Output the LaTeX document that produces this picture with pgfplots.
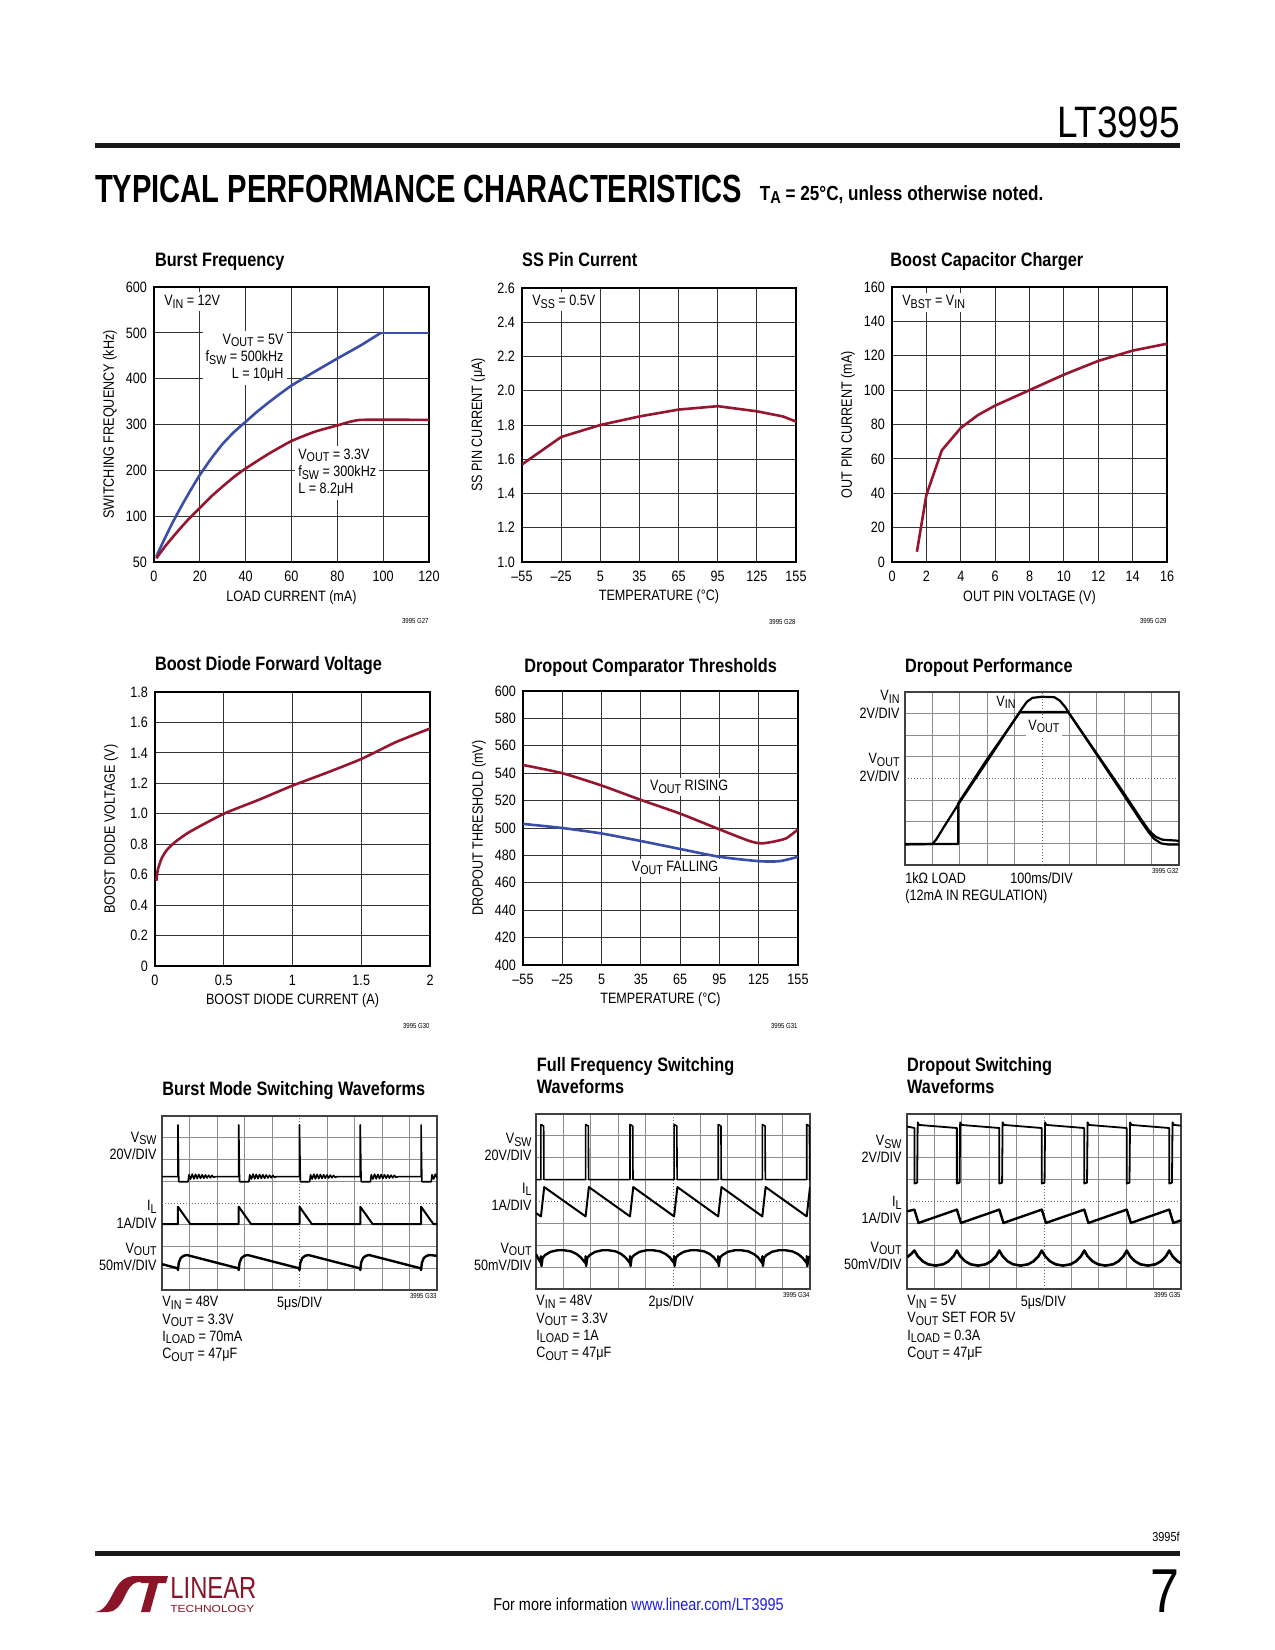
\documentclass[border=0pt]{standalone}
\usepackage{fontspec}
\setmainfont{Liberation Sans}[FakeStretch=0.84]
\usepackage{graphicx}
\usepackage{xcolor}
\usepackage{pgfplots}
\pgfplotsset{compat=1.18}

\definecolor{ltred}{RGB}{150,22,48}
\definecolor{ltblue}{RGB}{58,78,168}
\definecolor{linkblue}{RGB}{30,30,230}
\definecolor{logored}{RGB}{140,20,40}

\newcommand\ltfa{\fontsize{7.5}{8.6}\selectfont}
\newcommand\ltfb{\bfseries\fontsize{9.7}{11.2}\selectfont}
\newcommand\ltft{\fontsize{3.6}{4}\selectfont}
\newcommand\sub[1]{\raisebox{-0.32ex}{\scalebox{0.85}{#1}}}

\pgfplotsset{
  ltc/.style={
    scale only axis, anchor=north west,
    axis line style={line width=0.75pt},
    grid=major, major grid style={line width=0.5pt, black!80},
    major tick length=0pt,
    ticklabel style={font=\ltfa},
    /pgf/number format/assume math mode=true,
    xticklabel style={yshift=-1.2pt},
    every axis y label/.style={at={(axis description cs:-0.16,0.5)}, rotate=90, anchor=center, font=\ltfa},
    every axis x label/.style={at={(axis description cs:0.5,-0.128)}, anchor=center, font=\ltfa},
    clip mode=individual,
  },
  curve/.style={line width=1.3pt, no markers},
  scope/.style={
    scale only axis, anchor=north west,
    xmin=0,xmax=10,ymin=0,ymax=8,
    xtick={0,1,2,3,4,6,7,8,9,10}, ytick={0,1,2,3,5,6,7,8},
    xticklabels={}, yticklabels={},
    grid=major, major grid style={line width=0.5pt, black!45},
    major tick length=0pt,
    axis line style={line width=0.6pt, black!75},
    clip mode=individual,
  },
  trace/.style={black, line width=1.0pt, no markers, line join=round},
}

\begin{document}
\begin{tikzpicture}
\fill[white] (0,0) rectangle (637.5pt,-825pt);
\path[use as bounding box] (0,0) rectangle (637.5pt,-825pt);

\begin{scope}[x=0.5pt,y=-0.5pt]
% header
\node[anchor=base east, inner sep=0, font=\fontsize{22}{22}\selectfont] at (1180,137) {LT3995};
\fill[black!90] (94.7,143) rectangle (1180,148);
\node[anchor=base west, inner sep=0] at (94.7,202) {\resizebox{323.5pt}{13.7pt}{\bfseries\fontsize{19}{19}\selectfont TYPICAL PERFORMANCE CHARACTERISTICS}};
\node[anchor=base west, inner sep=0, font=\bfseries\fontsize{10.2}{12}\selectfont] at (759.5,200) {T\sub{A} = 25°C, unless otherwise noted.};
% titles
\node[anchor=base west, inner sep=0, font=\ltfb] at (154.6,266.5) {Burst Frequency};
\node[anchor=base west, inner sep=0, font=\ltfb] at (521.8,266) {SS Pin Current};
\node[anchor=base west, inner sep=0, font=\ltfb] at (890,266) {Boost Capacitor Charger};
\node[anchor=base west, inner sep=0, font=\ltfb] at (154.6,670) {Boost Diode Forward Voltage};
\node[anchor=base west, inner sep=0, font=\ltfb] at (523.9,672) {Dropout Comparator Thresholds};
\node[anchor=base west, inner sep=0, font=\ltfb] at (904.7,672) {Dropout Performance};
\node[anchor=base west, inner sep=0, font=\ltfb] at (162,1095) {Burst Mode Switching Waveforms};
\node[anchor=base west, inner sep=0, font=\ltfb] at (536.5,1071.5) {Full Frequency Switching};
\node[anchor=base west, inner sep=0, font=\ltfb] at (536.5,1093.3) {Waveforms};
\node[anchor=base west, inner sep=0, font=\ltfb] at (906.8,1071.5) {Dropout Switching};
\node[anchor=base west, inner sep=0, font=\ltfb] at (906.8,1093.3) {Waveforms};
% footer
\node[anchor=base east, inner sep=0, font=\fontsize{6.5}{7}\selectfont] at (1180,1541.5) {3995f};
\fill[black!90] (94.7,1550.6) rectangle (1180,1556);
\node[anchor=base east, inner sep=0, font=\fontsize{31}{31}\selectfont] at (1180,1612) {7};
\node[anchor=base, inner sep=0, font=\fontsize{8.6}{9}\selectfont] at (638.5,1610.5) {For more information \textcolor{linkblue}{www.linear.com/LT3995}};
% logo
\fill[logored] (95,1612) .. controls (106,1611) and (110,1598) .. (116,1588) .. controls (121,1580) and (126,1576) .. (136,1576) -- (150,1576) -- (147,1582) -- (140,1582) .. controls (131,1582) and (128,1590) .. (124,1598) .. controls (120,1606) and (115,1612) .. (108,1612) -- cycle;
\fill[logored] (143,1576) -- (168,1576) -- (166,1583) -- (158,1583) -- (150,1612) -- (141,1612) -- (149,1583) -- (141,1583) -- cycle;
\node[anchor=south west, inner sep=0, text=logored] at (170,1599) {\resizebox{43pt}{10.5pt}{LINEAR}};
\node[anchor=north west, inner sep=0, text=logored] at (170,1605) {\resizebox{42pt}{3.6pt}{TECHNOLOGY}};
\end{scope}

% ---------- Chart 1: Burst Frequency
\begin{axis}[ltc, at={(77pt,-143.5pt)}, width=137.5pt, height=137.5pt,
  xmin=0, xmax=120, ymin=0, ymax=600,
  xtick={0,20,40,60,80,100,120}, ytick={0,100,200,300,400,500,600},
  xticklabels={0,20,40,60,80,100,120},
  yticklabels={50,100,200,300,400,500,600},
  xlabel={LOAD CURRENT (mA)}, ylabel={SWITCHING FREQUENCY (kHz)}]
\addplot[curve, ltblue, smooth, tension=0.25] coordinates {(1,12) (4,44) (8,85) (12,122) (16,157) (20,190) (25,226) (30,258) (35,284) (40,306) (45,328) (50,348) (55,367) (60,385) (70,415) (80,444) (90,472) (99,500)};
\addplot[curve, ltblue] coordinates {(99,500) (120,500)};
\addplot[curve, ltred, smooth, tension=0.3] coordinates {(1,8) (5,35) (10,65) (15,93) (20,118) (25,143) (30,165) (35,186) (40,204) (50,236) (60,264) (70,284) (80,298) (90,310) (120,310)};
\node[fill=white, anchor=west, font=\ltfa, inner sep=1.5pt] at (axis description cs:0.025,0.947) {V\sub{IN} = 12V};
\node[fill=white, anchor=north east, align=right, font=\ltfa, inner sep=1.5pt] at (axis cs:58,505) {V\sub{OUT} = 5V\\f\sub{SW} = 500kHz\\L = 10μH};
\node[fill=white, anchor=north west, align=left, font=\ltfa, inner sep=1.5pt] at (axis cs:61.5,254) {V\sub{OUT} = 3.3V\\f\sub{SW} = 300kHz\\L = 8.2μH};
\node[anchor=east, font=\ltft, inner sep=0] at (axis description cs:1,-0.2145) {3995 G27};
\end{axis}

% ---------- Chart 2: SS Pin Current
\begin{axis}[ltc, at={(261pt,-144pt)}, width=137pt, height=137pt,
  xmin=-55, xmax=155, ymin=1.0, ymax=2.6,
  xtick={-55,-25,5,35,65,95,125,155}, ytick={1.0,1.2,1.4,1.6,1.8,2.0,2.2,2.4,2.6},
  xticklabels={–55,–25,5,35,65,95,125,155},
  yticklabels={1.0,1.2,1.4,1.6,1.8,2.0,2.2,2.4,2.6},
  xlabel={TEMPERATURE (°C)}, ylabel={SS PIN CURRENT (μA)}]
\addplot[curve, ltred] coordinates {(-55,1.57) (-25,1.73) (5,1.80) (35,1.85) (65,1.89) (95,1.91) (125,1.88) (145,1.85) (155,1.82)};
\node[fill=white, anchor=west, font=\ltfa, inner sep=1.5pt] at (axis description cs:0.025,0.95) {V\sub{SS} = 0.5V};
\node[anchor=east, font=\ltft, inner sep=0] at (axis description cs:1,-0.219) {3995 G28};
\end{axis}

% ---------- Chart 3: Boost Capacitor Charger
\begin{axis}[ltc, at={(446pt,-143.5pt)}, width=137.5pt, height=137.5pt,
  xmin=0, xmax=16, ymin=0, ymax=160,
  xtick={0,2,...,16}, ytick={0,20,...,160},
  xticklabels={0,2,4,6,8,10,12,14,16},
  yticklabels={0,20,40,60,80,100,120,140,160},
  xlabel={OUT PIN VOLTAGE (V)}, ylabel={OUT PIN CURRENT (mA)}]
\addplot[curve, ltred] coordinates {(1.45,6) (2,39) (2.9,65) (4,78) (5,85.5) (6,91) (8,100) (10,109) (12,117) (14,123) (16,127)};
\node[fill=white, anchor=west, font=\ltfa, inner sep=1.5pt] at (axis description cs:0.025,0.945) {V\sub{BST} = V\sub{IN}};
\node[anchor=east, font=\ltft, inner sep=0] at (axis description cs:1,-0.2145) {3995 G29};
\end{axis}

% ---------- Chart 4: Boost Diode Forward Voltage
\begin{axis}[ltc, at={(77.5pt,-346pt)}, width=137.5pt, height=137pt,
  xmin=0, xmax=2, ymin=0, ymax=1.8,
  xtick={0,0.5,1,1.5,2}, ytick={0,0.2,0.4,0.6,0.8,1.0,1.2,1.4,1.6,1.8},
  xticklabels={0,0.5,1,1.5,2},
  yticklabels={0,0.2,0.4,0.6,0.8,1.0,1.2,1.4,1.6,1.8},
  xlabel={BOOST DIODE CURRENT (A)}, ylabel={BOOST DIODE VOLTAGE (V)}]
\addplot[curve, ltred, smooth, tension=0.4] coordinates {(0.01,0.56) (0.02,0.63) (0.045,0.70) (0.08,0.755) (0.14,0.81) (0.25,0.88) (0.5,1.0) (0.75,1.09) (1.0,1.185) (1.25,1.27) (1.5,1.36) (1.75,1.47) (2.0,1.56)};
\node[anchor=east, font=\ltft, inner sep=0] at (axis description cs:1,-0.219) {3995 G30};
\end{axis}

% ---------- Chart 5: Dropout Comparator Thresholds
\begin{axis}[ltc, at={(261.5pt,-345.5pt)}, width=137.5pt, height=137pt,
  xmin=-55, xmax=155, ymin=400, ymax=600,
  xtick={-55,-25,5,35,65,95,125,155}, ytick={400,420,...,600},
  xticklabels={–55,–25,5,35,65,95,125,155},
  yticklabels={400,420,440,460,480,500,520,540,560,580,600},
  xlabel={TEMPERATURE (°C)}, ylabel={DROPOUT THRESHOLD (mV)}]
\addplot[curve, ltred, smooth, tension=0.4] coordinates {(-55,546) (-25,540) (5,531) (35,520.5) (65,510.5) (95,499) (118,490.5) (127,488.8) (136,490) (146,492.5) (155,499)};
\addplot[curve, ltblue, smooth, tension=0.4] coordinates {(-55,503) (-25,500) (5,496) (35,490.5) (65,484.7) (95,479) (125,475.8) (141,475.8) (155,479)};
\node[fill=white, anchor=west, font=\ltfa, inner sep=1.2pt] at (axis cs:40,530) {V\sub{OUT} RISING};
\node[fill=white, anchor=west, font=\ltfa, inner sep=1.2pt] at (axis cs:26,471) {V\sub{OUT} FALLING};
\node[anchor=east, font=\ltft, inner sep=0] at (axis description cs:1,-0.2225) {3995 G31};
\end{axis}

% ---------- Chart 6: Dropout Performance (scope)
\begin{axis}[scope, at={(452.5pt,-346pt)}, width=137pt, height=86.5pt]
\draw[black!60, line width=0.5pt, densely dotted] (axis cs:5,0) -- (axis cs:5,8);
\draw[black!60, line width=0.5pt, densely dotted] (axis cs:0,4) -- (axis cs:10,4);
\addplot[trace, line width=1.1pt] coordinates {(0,0.95) (1.0,0.97) (1.15,1.2) (1.4,1.72) (1.94,2.8) (3.0,4.8) (4.0,6.72) (4.25,7.2) (4.45,7.55) (4.65,7.73) (5.0,7.78) (5.45,7.76) (5.65,7.6) (5.85,7.3) (6.0,7.0) (7.0,5.1) (8.0,3.2) (8.6,2.05) (8.9,1.5) (9.1,1.2) (9.35,1.0) (9.6,0.95) (10,0.95)};
\addplot[trace, line width=1.1pt] coordinates {(0,0.97) (1.94,0.97) (1.94,2.85) (3.0,4.9) (4.2,7.08) (5.95,7.08) (7.0,5.15) (8.0,3.3) (8.6,2.15) (8.9,1.6) (9.15,1.3) (9.4,1.17) (10,1.12)};
\node[anchor=east, align=right, font=\ltfa, xshift=-2.5pt, inner sep=0] at (axis description cs:0,0.928) {V\sub{IN}\\2V/DIV};
\node[anchor=east, align=right, font=\ltfa, xshift=-2.5pt, inner sep=0] at (axis description cs:0,0.564) {V\sub{OUT}\\2V/DIV};
\node[anchor=west, font=\ltfa, inner sep=1pt] at (axis description cs:0.325,0.94) {V\sub{IN}};
\node[anchor=west, fill=white, font=\ltfa, inner sep=1.2pt] at (axis description cs:0.44,0.80) {V\sub{OUT}};
\node[anchor=north west, align=left, font=\ltfa, inner sep=0, yshift=-3.5pt] at (axis description cs:0,0) {1kΩ LOAD\\(12mA IN REGULATION)};
\node[anchor=north west, font=\ltfa, inner sep=0, yshift=-3.5pt] at (axis description cs:0.383,0) {100ms/DIV};
\node[anchor=north east, font=\ltft, inner sep=0, yshift=-1.5pt] at (axis description cs:1,0) {3995 G32};
\end{axis}

% ---------- Chart 7: Burst Mode Switching Waveforms
\begin{axis}[scope, at={(81pt,-558pt)}, width=137.5pt, height=87pt]
\draw[black!60, line width=0.5pt, densely dotted] (axis cs:5,0) -- (axis cs:5,8);
\draw[black!60, line width=0.5pt, densely dotted] (axis cs:0,4) -- (axis cs:10,4);
\addplot[trace, line width=0.8pt] coordinates {(0,5.21) (0.58,5.21) (0.58,7.59) (0.61,4.98) (0.95,4.98) (0.98,5.30) (1.04,5.10) (1.10,5.33) (1.16,5.11) (1.22,5.32) (1.28,5.12) (1.34,5.31) (1.40,5.13) (1.46,5.30) (1.52,5.14) (1.58,5.29) (1.64,5.15) (1.70,5.28) (1.76,5.16) (1.82,5.27) (1.88,5.18) (1.94,5.21)
 (2.79,5.21) (2.79,7.59) (2.82,4.98) (3.16,4.98) (3.19,5.30) (3.25,5.10) (3.31,5.33) (3.37,5.11) (3.43,5.32) (3.49,5.12) (3.55,5.31) (3.61,5.13) (3.67,5.30) (3.73,5.14) (3.79,5.29) (3.85,5.15) (3.91,5.28) (3.97,5.16) (4.03,5.27) (4.09,5.18) (4.15,5.21)
 (5.0,5.21) (5.0,7.59) (5.03,4.98) (5.37,4.98) (5.40,5.30) (5.46,5.10) (5.52,5.33) (5.58,5.11) (5.64,5.32) (5.70,5.12) (5.76,5.31) (5.82,5.13) (5.88,5.30) (5.94,5.14) (6.00,5.29) (6.06,5.15) (6.12,5.28) (6.18,5.16) (6.24,5.27) (6.30,5.18) (6.36,5.21)
 (7.21,5.21) (7.21,7.59) (7.24,4.98) (7.58,4.98) (7.61,5.30) (7.67,5.10) (7.73,5.33) (7.79,5.11) (7.85,5.32) (7.91,5.12) (7.97,5.31) (8.03,5.13) (8.09,5.30) (8.15,5.14) (8.21,5.29) (8.27,5.15) (8.33,5.28) (8.39,5.16) (8.45,5.27) (8.51,5.18) (8.57,5.21)
 (9.42,5.21) (9.42,7.59) (9.45,4.98) (9.79,4.98) (9.82,5.30) (9.88,5.10) (9.94,5.33) (10,5.15)};
\addplot[trace] coordinates {(0,3.03) (0.58,3.03) (0.58,3.83) (1.03,3.03) (2.79,3.03) (2.79,3.83) (3.24,3.03) (5.0,3.03) (5.0,3.83) (5.45,3.03) (7.21,3.03) (7.21,3.83) (7.66,3.03) (9.42,3.03) (9.42,3.83) (9.87,3.03) (10,3.03)};
\addplot[trace, line width=1.2pt] coordinates {(0,1.19) (0.56,1.0) (0.58,0.92) (0.61,1.25) (0.68,1.47) (0.78,1.57) (0.90,1.61) (2.77,1.0) (2.79,0.92) (2.82,1.25) (2.89,1.47) (2.99,1.57) (3.11,1.61) (4.98,1.0) (5.0,0.92) (5.03,1.25) (5.10,1.47) (5.20,1.57) (5.32,1.61) (7.19,1.0) (7.21,0.92) (7.24,1.25) (7.31,1.47) (7.41,1.57) (7.53,1.61) (9.40,1.0) (9.42,0.92) (9.45,1.25) (9.52,1.47) (9.62,1.57) (9.74,1.61) (10,1.57)};
\node[anchor=east, align=right, font=\ltfa, xshift=-2.5pt, inner sep=0] at (axis description cs:0,0.828) {V\sub{SW}\\20V/DIV};
\node[anchor=east, align=right, font=\ltfa, xshift=-2.5pt, inner sep=0] at (axis description cs:0,0.434) {I\sub{L}\\1A/DIV};
\node[anchor=east, align=right, font=\ltfa, xshift=-2.5pt, inner sep=0] at (axis description cs:0,0.192) {V\sub{OUT}\\50mV/DIV};
\node[anchor=north west, align=left, font=\ltfa, inner sep=0, yshift=-3pt] at (axis description cs:0,0) {V\sub{IN} = 48V\\V\sub{OUT} = 3.3V\\I\sub{LOAD} = 70mA\\C\sub{OUT} = 47μF};
\node[anchor=north west, font=\ltfa, inner sep=0, yshift=-3pt] at (axis description cs:0.417,0) {5μs/DIV};
\node[anchor=north east, font=\ltft, inner sep=0, yshift=-1.5pt] at (axis description cs:1,0) {3995 G33};
\end{axis}

% ---------- Chart 8: Full Frequency Switching Waveforms
\begin{axis}[scope, at={(268pt,-557pt)}, width=137pt, height=87.5pt]
\draw[black!60, line width=0.5pt, densely dotted] (axis cs:5,0) -- (axis cs:5,8);
\draw[black!60, line width=0.5pt, densely dotted] (axis cs:0,4) -- (axis cs:10,4);
\addplot[trace, line width=0.8pt] coordinates {(0,5.0) (0.18,5.0) (0.18,7.52) (0.28,7.45) (0.29,5.0) (1.81,5.0) (1.81,7.52) (1.91,7.45) (1.92,5.0) (3.43,5.0) (3.43,7.52) (3.53,7.45) (3.54,5.0) (5.04,5.0) (5.04,7.52) (5.14,7.45) (5.15,5.0) (6.65,5.0) (6.65,7.52) (6.75,7.45) (6.76,5.0) (8.26,5.0) (8.26,7.52) (8.36,7.45) (8.37,5.0) (9.88,5.0) (9.88,7.52) (9.98,7.45) (9.99,5.0) (10,5.0)};
\addplot[trace] coordinates {(0,3.47) (0.18,3.32) (0.30,4.66) (1.81,3.32) (1.93,4.66) (3.43,3.32) (3.55,4.66) (5.04,3.32) (5.16,4.66) (6.65,3.32) (6.77,4.66) (8.26,3.32) (8.38,4.66) (9.88,3.32) (10,4.66)};
\addplot[trace, line width=1.2pt] coordinates {(0,1.6) (0.1,1.35) (0.18,1.19) (0.18,1.5) (0.2,1.05) (0.24,1.42) (0.33,1.55) (0.53,1.7) (0.78,1.77) (1.03,1.77) (1.28,1.72) (1.48,1.6) (1.63,1.45) (1.78,1.22) (1.81,1.19)
 (1.81,1.5) (1.83,1.05) (1.87,1.42) (1.96,1.55) (2.16,1.7) (2.41,1.77) (2.66,1.77) (2.91,1.72) (3.11,1.6) (3.26,1.45) (3.41,1.22) (3.43,1.19)
 (3.43,1.5) (3.45,1.05) (3.49,1.42) (3.58,1.55) (3.78,1.7) (4.03,1.77) (4.28,1.77) (4.53,1.72) (4.73,1.6) (4.88,1.45) (5.02,1.22) (5.04,1.19)
 (5.04,1.5) (5.06,1.05) (5.10,1.42) (5.19,1.55) (5.39,1.7) (5.64,1.77) (5.89,1.77) (6.14,1.72) (6.34,1.6) (6.49,1.45) (6.63,1.22) (6.65,1.19)
 (6.65,1.5) (6.67,1.05) (6.71,1.42) (6.80,1.55) (7.00,1.7) (7.25,1.77) (7.50,1.77) (7.75,1.72) (7.95,1.6) (8.10,1.45) (8.24,1.22) (8.26,1.19)
 (8.26,1.5) (8.28,1.05) (8.32,1.42) (8.41,1.55) (8.61,1.7) (8.86,1.77) (9.11,1.77) (9.36,1.72) (9.56,1.6) (9.71,1.45) (9.86,1.22) (9.88,1.19)
 (9.88,1.5) (9.90,1.05) (9.94,1.42) (10,1.5)};
\node[anchor=east, align=right, font=\ltfa, xshift=-2pt, inner sep=0] at (axis description cs:0,0.811) {V\sub{SW}\\20V/DIV};
\node[anchor=east, align=right, font=\ltfa, xshift=-2pt, inner sep=0] at (axis description cs:0,0.526) {I\sub{L}\\1A/DIV};
\node[anchor=east, align=right, font=\ltfa, xshift=-2pt, inner sep=0] at (axis description cs:0,0.185) {V\sub{OUT}\\50mV/DIV};
\node[anchor=north west, align=left, font=\ltfa, inner sep=0, yshift=-3pt] at (axis description cs:0,0) {V\sub{IN} = 48V\\V\sub{OUT} = 3.3V\\I\sub{LOAD} = 1A\\C\sub{OUT} = 47μF};
\node[anchor=north west, font=\ltfa, inner sep=0, yshift=-3pt] at (axis description cs:0.41,0) {2μs/DIV};
\node[anchor=north east, font=\ltft, inner sep=0, yshift=-1.5pt] at (axis description cs:1,0) {3995 G34};
\end{axis}

% ---------- Chart 9: Dropout Switching Waveforms
\begin{axis}[scope, at={(453.5pt,-557pt)}, width=137pt, height=87.5pt]
\draw[black!60, line width=0.5pt, densely dotted] (axis cs:5,0) -- (axis cs:5,8);
\draw[black!60, line width=0.5pt, densely dotted] (axis cs:0,4) -- (axis cs:10,4);
\addplot[trace, line width=0.9pt] coordinates {(0,7.43) (0.27,7.36) (0.27,4.82) (0.37,4.86) (0.39,7.62) (0.44,7.5) (1.82,7.36) (1.82,4.82) (1.92,4.86) (1.94,7.62) (1.99,7.5) (3.37,7.36) (3.37,4.82) (3.47,4.86) (3.49,7.62) (3.54,7.5) (4.92,7.36) (4.92,4.82) (5.02,4.86) (5.04,7.62) (5.09,7.5) (6.47,7.36) (6.47,4.82) (6.57,4.86) (6.59,7.62) (6.64,7.5) (8.02,7.36) (8.02,4.82) (8.12,4.86) (8.14,7.62) (8.19,7.5) (9.57,7.36) (9.57,4.82) (9.67,4.86) (9.69,7.62) (9.74,7.5) (10,7.47)};
\addplot[trace, line width=1.2pt] coordinates {(0,3.55) (0.27,3.63) (0.42,3.02) (1.82,3.63) (1.97,3.02) (3.37,3.63) (3.52,3.02) (4.92,3.63) (5.07,3.02) (6.47,3.63) (6.62,3.02) (8.02,3.63) (8.17,3.02) (9.57,3.63) (9.72,3.02) (10,3.14)};
\addplot[trace, line width=1.3pt] coordinates {(0,1.45) (0.15,1.6) (0.27,1.76) (0.39,1.5) (0.57,1.27) (0.77,1.13) (1.04,1.07) (1.32,1.13) (1.52,1.27) (1.70,1.5) (1.82,1.76) (1.94,1.5) (2.12,1.27) (2.32,1.13) (2.59,1.07) (2.87,1.13) (3.07,1.27) (3.25,1.5) (3.37,1.76) (3.49,1.5) (3.67,1.27) (3.87,1.13) (4.14,1.07) (4.42,1.13) (4.62,1.27) (4.80,1.5) (4.92,1.76) (5.04,1.5) (5.22,1.27) (5.42,1.13) (5.69,1.07) (5.97,1.13) (6.17,1.27) (6.35,1.5) (6.47,1.76) (6.59,1.5) (6.77,1.27) (6.97,1.13) (7.24,1.07) (7.52,1.13) (7.72,1.27) (7.90,1.5) (8.02,1.76) (8.14,1.5) (8.32,1.27) (8.52,1.13) (8.79,1.07) (9.07,1.13) (9.27,1.27) (9.45,1.5) (9.57,1.76) (9.69,1.5) (9.87,1.27) (10,1.18)};
\node[anchor=east, align=right, font=\ltfa, xshift=-2.5pt, inner sep=0] at (axis description cs:0,0.799) {V\sub{SW}\\2V/DIV};
\node[anchor=east, align=right, font=\ltfa, xshift=-2.5pt, inner sep=0] at (axis description cs:0,0.45) {I\sub{L}\\1A/DIV};
\node[anchor=east, align=right, font=\ltfa, xshift=-2.5pt, inner sep=0] at (axis description cs:0,0.189) {V\sub{OUT}\\50mV/DIV};
\node[anchor=north west, align=left, font=\ltfa, inner sep=0, yshift=-3pt] at (axis description cs:0,0) {V\sub{IN} = 5V\\V\sub{OUT} SET FOR 5V\\I\sub{LOAD} = 0.3A\\C\sub{OUT} = 47μF};
\node[anchor=north west, font=\ltfa, inner sep=0, yshift=-3pt] at (axis description cs:0.414,0) {5μs/DIV};
\node[anchor=north east, font=\ltft, inner sep=0, yshift=-1.5pt] at (axis description cs:1,0) {3995 G35};
\end{axis}
\end{tikzpicture}
\end{document}
